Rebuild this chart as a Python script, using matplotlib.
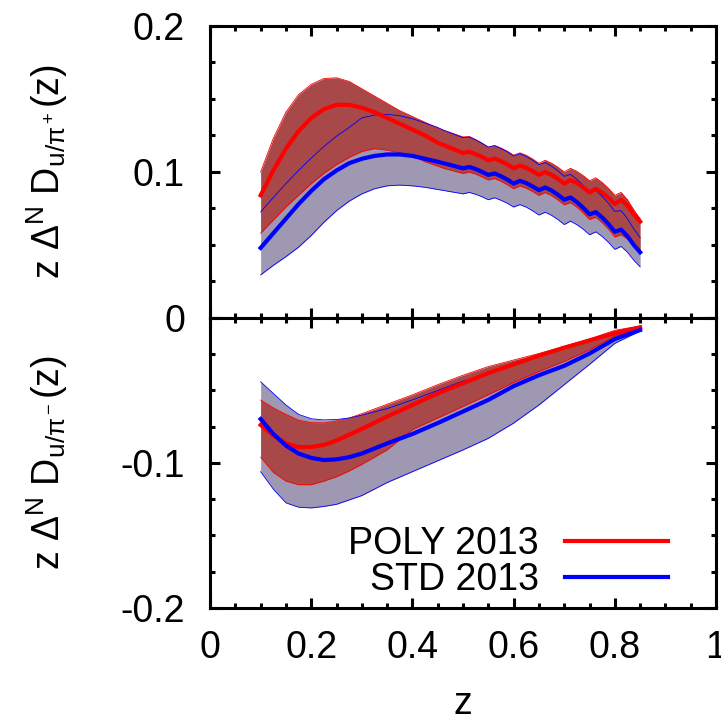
import numpy as np
import matplotlib
matplotlib.use("Agg")
import matplotlib.pyplot as plt
from matplotlib.ticker import MultipleLocator

plt.rcParams['font.family'] = ['Liberation Sans', 'DejaVu Sans']
plt.rcParams['mathtext.fontset'] = 'custom'
plt.rcParams['mathtext.rm'] = 'Liberation Sans'
plt.rcParams['mathtext.it'] = 'Liberation Sans'
plt.rcParams['mathtext.bf'] = 'Liberation Sans:bold'

# ---- top panel: z Delta^N D_{u/pi+}(z) ----
z_top = [0.100, 0.125, 0.150, 0.175, 0.200, 0.225, 0.250, 0.275, 0.300, 0.325,
         0.350, 0.375, 0.400, 0.425, 0.450,
         0.4625, 0.475, 0.4875, 0.500, 0.5125, 0.525, 0.5375, 0.550,
         0.5625, 0.575, 0.5875, 0.600, 0.6125, 0.625, 0.6375, 0.650,
         0.6625, 0.675, 0.6875, 0.700, 0.7125, 0.725, 0.7375, 0.750,
         0.7625, 0.775, 0.7875, 0.800, 0.8125, 0.825, 0.8375, 0.850]

poly_top = [0.084, 0.101, 0.116, 0.128, 0.137, 0.143, 0.146, 0.146, 0.144, 0.141,
            0.137, 0.133, 0.129, 0.125, 0.120,
            0.1183, 0.1165, 0.1148, 0.1130, 0.1138, 0.1122, 0.1103, 0.1080,
            0.1091, 0.1074, 0.1052, 0.1025, 0.1044, 0.1029, 0.1006, 0.0980,
            0.1000, 0.0980, 0.0953, 0.0920, 0.0945, 0.0924, 0.0895, 0.0860,
            0.0885, 0.0858, 0.0823, 0.0780, 0.0810, 0.0770, 0.0710, 0.0660]
poly_top_hi = [0.100, 0.123, 0.141, 0.153, 0.160, 0.164, 0.1645, 0.162, 0.157, 0.152,
               0.147, 0.142, 0.138, 0.134, 0.130,
               0.1285, 0.1270, 0.1255, 0.1240, 0.1243, 0.1222, 0.1198, 0.1170,
               0.1181, 0.1164, 0.1142, 0.1115, 0.1131, 0.1114, 0.1089, 0.1060,
               0.1080, 0.1060, 0.1033, 0.1000, 0.1025, 0.1004, 0.0975, 0.0940,
               0.0960, 0.0928, 0.0888, 0.0840, 0.0860, 0.0810, 0.0740, 0.0680]
poly_top_lo = [0.058, 0.067, 0.076, 0.084, 0.092, 0.099, 0.105, 0.110, 0.114, 0.116,
               0.115, 0.113, 0.111, 0.107, 0.104,
               0.1024, 0.1013, 0.1001, 0.0990, 0.0999, 0.0985, 0.0966, 0.0945,
               0.0955, 0.0936, 0.0913, 0.0885, 0.0904, 0.0889, 0.0866, 0.0840,
               0.0859, 0.0838, 0.0809, 0.0775, 0.0790, 0.0759, 0.0720, 0.0675,
               0.0690, 0.0653, 0.0608, 0.0555, 0.0570, 0.0540, 0.0500, 0.0470]

std_top = [0.048, 0.058, 0.068, 0.078, 0.087, 0.095, 0.101, 0.106, 0.109, 0.111,
           0.112, 0.112, 0.111, 0.109, 0.107,
           0.1059, 0.1048, 0.1036, 0.1025, 0.1034, 0.1020, 0.1001, 0.0980,
           0.0990, 0.0971, 0.0948, 0.0920, 0.0939, 0.0924, 0.0901, 0.0875,
           0.0894, 0.0873, 0.0844, 0.0810, 0.0825, 0.0794, 0.0755, 0.0710,
           0.0725, 0.0688, 0.0643, 0.0590, 0.0605, 0.0560, 0.0500, 0.0450]
std_top_hi = [0.0726, 0.0825, 0.092, 0.101, 0.1095, 0.1175, 0.1245, 0.1305, 0.137, 0.139,
              0.1395, 0.1385, 0.1365, 0.1335, 0.1305,
              0.1284, 0.1268, 0.1251, 0.1235, 0.1239, 0.1220, 0.1196, 0.1170,
              0.1180, 0.1161, 0.1138, 0.1110, 0.1125, 0.1106, 0.1080, 0.1050,
              0.1065, 0.1040, 0.1008, 0.0970, 0.0983, 0.0949, 0.0908, 0.0860,
              0.0873, 0.0833, 0.0786, 0.0730, 0.0735, 0.0680, 0.0610, 0.0550]
std_top_lo = [0.0295, 0.036, 0.042, 0.0485, 0.0565, 0.0655, 0.0735, 0.0800, 0.085, 0.0885,
              0.0905, 0.091, 0.0905, 0.0895, 0.088,
              0.0873, 0.0865, 0.0858, 0.0850, 0.0860, 0.0847, 0.0830, 0.0810,
              0.0823, 0.0806, 0.0786, 0.0760, 0.0776, 0.0759, 0.0734, 0.0705,
              0.0724, 0.0703, 0.0674, 0.0640, 0.0663, 0.0639, 0.0608, 0.0570,
              0.0590, 0.0558, 0.0518, 0.0470, 0.0490, 0.0450, 0.0395, 0.0350]

# ---- bottom panel: z Delta^N D_{u/pi-}(z) ----
z_bot = [0.100, 0.125, 0.150, 0.175, 0.200, 0.225, 0.250, 0.275, 0.300, 0.350,
         0.400, 0.450, 0.500, 0.550, 0.600, 0.650, 0.700, 0.750, 0.800, 0.850]

poly_bot = [-0.0738, -0.081, -0.0865, -0.089, -0.089, -0.0875, -0.0845, -0.0805, -0.0765, -0.068,
            -0.060, -0.052, -0.045, -0.038, -0.032, -0.026, -0.0205, -0.0155, -0.0105, -0.0065]
poly_bot_hi = [-0.0566, -0.062, -0.0665, -0.0705, -0.0722, -0.0724, -0.071, -0.069, -0.066, -0.0595,
               -0.053, -0.046, -0.0395, -0.0335, -0.029, -0.0245, -0.0195, -0.0145, -0.0085, -0.0055]
poly_bot_lo = [-0.096, -0.1065, -0.1125, -0.115, -0.115, -0.1125, -0.1095, -0.1055, -0.101, -0.091,
               -0.077, -0.069, -0.061, -0.053, -0.0445, -0.037, -0.030, -0.022, -0.0125, -0.0075]

std_bot = [-0.0697, -0.080, -0.088, -0.0935, -0.0965, -0.098, -0.0975, -0.096, -0.0935, -0.0865,
           -0.080, -0.0725, -0.0645, -0.0565, -0.047, -0.0395, -0.033, -0.0245, -0.0145, -0.0083]
std_bot_hi = [-0.044, -0.052, -0.060, -0.0665, -0.0695, -0.0703, -0.070, -0.069, -0.067, -0.0625,
              -0.0565, -0.050, -0.0435, -0.0385, -0.031, -0.0255, -0.020, -0.015, -0.0095, -0.0055]
std_bot_lo = [-0.106, -0.118, -0.1275, -0.1305, -0.131, -0.130, -0.1285, -0.1255, -0.1225, -0.1135,
              -0.106, -0.0985, -0.091, -0.083, -0.0725, -0.060, -0.046, -0.032, -0.0175, -0.009]

labels = ['POLY 2013', 'STD 2013']
red_fill = '#a94848'
blue_fill = '#9f98b3'

fig = plt.figure(figsize=(7.21, 7.23), dpi=100)
ax1 = fig.add_axes([0.2913, 0.5602, 0.7018, 0.4039])
ax2 = fig.add_axes([0.2913, 0.1591, 0.7018, 0.4011])


def draw(ax, z, poly, p_hi, p_lo, std, s_hi, s_lo):
    ax.fill_between(z, s_lo, s_hi, color=blue_fill, lw=0, zorder=1)
    ax.fill_between(z, p_lo, p_hi, color=red_fill, lw=0, zorder=2)
    ax.plot(z, p_hi, color='red', lw=0.6, zorder=3)
    ax.plot(z, p_lo, color='red', lw=0.6, zorder=3)
    ax.plot(z, s_hi, color='blue', lw=0.6, zorder=3)
    ax.plot(z, s_lo, color='blue', lw=0.6, zorder=3)
    ax.plot(z, poly, color='red', lw=3, zorder=4, label=labels[0])
    ax.plot(z, std, color='blue', lw=3, zorder=5, label=labels[1])


draw(ax1, z_top, poly_top, poly_top_hi, poly_top_lo, std_top, std_top_hi, std_top_lo)
draw(ax2, z_bot, poly_bot, poly_bot_hi, poly_bot_lo, std_bot, std_bot_hi, std_bot_lo)

for ax in (ax1, ax2):
    ax.set_xlim(0, 1)
    ax.xaxis.set_major_locator(MultipleLocator(0.2))
    ax.xaxis.set_minor_locator(MultipleLocator(0.05))
    ax.yaxis.set_major_locator(MultipleLocator(0.1))
    ax.yaxis.set_minor_locator(MultipleLocator(0.025))
    ax.tick_params(which='both', direction='in', top=True, right=True, width=2.2,
                   labelsize=27)
    ax.tick_params(which='major', length=7)
    ax.tick_params(which='minor', length=3.5)
    ax.tick_params(axis='y', pad=18)
    ax.tick_params(axis='x', pad=16)
    for s in ax.spines.values():
        s.set_linewidth(2.2)

ax1.set_ylim(0, 0.2)
ax1.set_yticks([0, 0.1, 0.2])
ax1.set_yticklabels(['0', '0.1', '0.2'])
ax1.tick_params(axis='x', labelbottom=False)

ax2.set_ylim(-0.2, 0)
ax2.set_yticks([-0.2, -0.1, 0])
ax2.set_yticklabels(['-0.2', '-0.1', ''])
ax2.set_xticks([0, 0.2, 0.4, 0.6, 0.8, 1.0])
ax2.set_xticklabels(['0', '0.2', '0.4', '0.6', '0.8', '1'])

fig.text(0.065, 0.762, r'$\mathrm{z\ \Delta^N\ D_{u/\pi^+}(z)}$', rotation=90,
         ha='center', va='center', fontsize=27)
fig.text(0.065, 0.360, r'$\mathrm{z\ \Delta^N\ D_{u/\pi^-}(z)}$', rotation=90,
         ha='center', va='center', fontsize=27)
fig.text(0.642, 0.012, 'z', ha='center', va='baseline', fontsize=27)

ax2.legend(loc='lower right', bbox_to_anchor=(0.905, 0.035), frameon=False,
           markerfirst=False, fontsize=27, handlelength=2.75, handletextpad=0.7,
           labelspacing=0.0, borderpad=0, borderaxespad=0)

fig.savefig('out.png', dpi=100)
